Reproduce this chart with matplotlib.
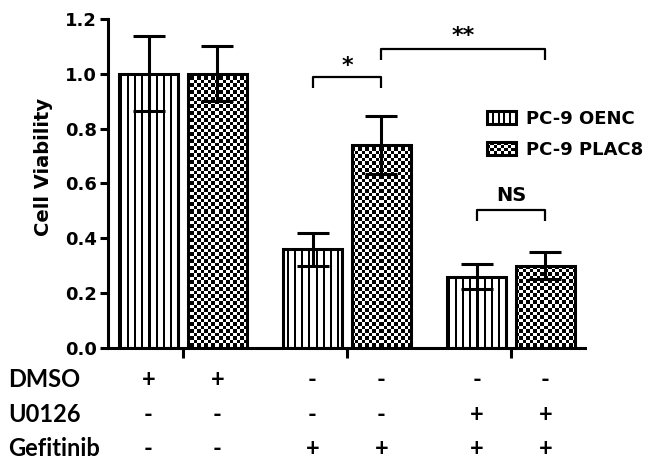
import numpy as np
import matplotlib
matplotlib.use("Agg")
import matplotlib.pyplot as plt
import matplotlib.transforms as mtransforms
from matplotlib.patches import Rectangle
from matplotlib.legend_handler import HandlerBase

# ---------------- data ----------------
groups = ["DMSO", "Gefitinib", "U0126 + Gefitinib"]
series = ["PC-9 OENC", "PC-9 PLAC8"]
oenc_mean = [1.00, 0.36, 0.26]
oenc_err = [0.137, 0.06, 0.046]
plac8_mean = [1.00, 0.74, 0.30]
plac8_err = [0.10, 0.105, 0.05]
yticks = [0.0, 0.2, 0.4, 0.6, 0.8, 1.0, 1.2]
row_labels = ["DMSO", "U0126", "Gefitinib"]
row_marks = [
    ["+", "+", "-", "-", "-", "-"],
    ["-", "-", "-", "-", "+", "+"],
    ["-", "-", "+", "+", "+", "+"],
]
sig_labels = ["*", "**", "NS"]
sig_pairs = [(2, 3), (3, 5), (4, 5)]   # bar indices (order: g0-OENC, g0-PLAC8, g1-OENC, ...)

# ---------------- layout ----------------
W, H = 646, 466
fig = plt.figure(figsize=(W / 100, H / 100), dpi=100)
ax = fig.add_axes([108 / W, 1 - 348 / H, 477 / W, 329 / H])
ax.set_xlim(-0.457, 2.451)
ax.set_ylim(0, 1.2)

x = np.arange(len(groups))
off, bw = 0.21, 0.36
LW = 2.2

bars1 = ax.bar(x - off, oenc_mean, bw, facecolor="none", edgecolor="black",
               linewidth=LW, zorder=3, label=series[0])
bars2 = ax.bar(x + off, plac8_mean, bw, facecolor="none", edgecolor="black",
               linewidth=LW, zorder=3, label=series[1])

ax.errorbar(x - off, oenc_mean, yerr=oenc_err, fmt="none", ecolor="black",
            elinewidth=LW, capsize=11.5, capthick=LW, zorder=4)
ax.errorbar(x + off, plac8_mean, yerr=plac8_err, fmt="none", ecolor="black",
            elinewidth=LW, capsize=11.5, capthick=LW, zorder=4)


def fill_pattern(patch, kind):
    bb = patch.get_bbox()
    (px0, py0), (px1, py1) = ax.transData.transform([[bb.x0, bb.y0], [bb.x1, bb.y1]])
    wpx = max(int(round(px1 - px0)), 1)
    hpx = max(int(round(py1 - py0)), 1)
    X, Y = np.meshgrid(np.arange(wpx) + np.floor(px0), np.arange(hpx) + np.floor(py0))
    if kind == "stripes":
        img = ((X % 7) >= 2).astype(float)
    else:
        img = ((np.floor(X / 3.5) + np.floor(Y / 3.5)) % 2).astype(float)
    im = ax.imshow(img, cmap="gray", vmin=0, vmax=1,
                   extent=(bb.x0, bb.x1, bb.y0, bb.y1), origin="lower",
                   interpolation="nearest", aspect="auto", zorder=2)
    im.set_clip_path(patch)


for p in bars1.patches:
    fill_pattern(p, "stripes")
for p in bars2.patches:
    fill_pattern(p, "checker")

ax.set_xlim(-0.457, 2.451)
ax.set_ylim(0, 1.2)

# ---------------- axes styling ----------------
for s in ["top", "right"]:
    ax.spines[s].set_visible(False)
for s in ["left", "bottom"]:
    ax.spines[s].set_linewidth(LW)
ax.set_xticks(x)
ax.set_xticklabels([])
ax.tick_params(axis="x", length=7, width=LW)
ax.set_yticks(yticks)
ax.set_yticklabels([f"{v:.1f}" for v in yticks], fontsize=13, fontweight="bold",
                   family="DejaVu Sans")
ax.tick_params(axis="y", length=6, width=LW, pad=2)
ax.set_ylabel("Cell Viability", fontsize=14, fontweight="bold", family="DejaVu Sans")
ax.yaxis.set_label_coords(-0.115, 0.549)

# ---------------- significance brackets ----------------
centers = []
for g in x:
    centers += [g - off, g + off]
bracket_y = [0.988, 1.090, 0.503]
label_y = [1.027, 1.137, 0.558]
for lab, (i, j), yb, yl in zip(sig_labels, sig_pairs, bracket_y, label_y):
    xi, xj = centers[i], centers[j]
    ax.plot([xi, xi, xj, xj], [yb - 0.04, yb, yb, yb - 0.04], color="black",
            lw=1.6, solid_capstyle="butt", zorder=5)
    ax.text((xi + xj) / 2, yl, lab, ha="center", va="center",
            fontsize=16 if "*" in lab else 14, fontweight="bold", family="DejaVu Sans")


# ---------------- legend ----------------
class PatternHandler(HandlerBase):
    def __init__(self, kind):
        super().__init__()
        self.kind = kind

    def create_artists(self, legend, orig_handle, xdescent, ydescent, width,
                       height, fontsize, trans):
        x0, y0 = -xdescent, -ydescent
        arts = [Rectangle((x0, y0), width, height, facecolor="white",
                          edgecolor="none", transform=trans)]
        if self.kind == "stripes":
            n = 4
            for k in range(1, n + 1):
                xx = x0 + width * k / (n + 1)
                arts.append(Rectangle((xx - 0.7, y0), 1.4, height, facecolor="black",
                                      edgecolor="none", transform=trans))
        else:
            cell = 2.5
            nx = int(np.ceil(width / cell))
            ny = int(np.ceil(height / cell))
            for a in range(nx):
                for b in range(ny):
                    if (a + b) % 2 == 0:
                        cw = min(cell, width - a * cell)
                        ch = min(cell, height - b * cell)
                        arts.append(Rectangle((x0 + a * cell, y0 + b * cell), cw, ch,
                                              facecolor="black", edgecolor="none",
                                              transform=trans))
        arts.append(Rectangle((x0, y0), width, height, facecolor="none",
                              edgecolor="black", lw=LW, transform=trans))
        return arts


ax.legend([bars1, bars2], series,
          handler_map={bars1: PatternHandler("stripes"), bars2: PatternHandler("checker")},
          loc="upper left", bbox_to_anchor=(487 / W, 1 - 110 / H),
          bbox_transform=fig.transFigure, frameon=False, borderpad=0,
          borderaxespad=0, handlelength=1.6, handleheight=0.75,
          handletextpad=0.55, labelspacing=0.7,
          prop={"family": "DejaVu Sans", "weight": "bold", "size": 13})

# ---------------- treatment table ----------------
row_base = [387, 421.5, 456]
blend = mtransforms.blended_transform_factory(ax.transData, fig.transFigure)
for lab, marks, yb in zip(row_labels, row_marks, row_base):
    fig.text(8 / W, 1 - yb / H, lab, ha="left", va="baseline", fontsize=17,
             fontweight="bold", family="Lato")
    for cx, m in zip(centers, marks):
        ax.text(cx, 1 - yb / H, m, transform=blend, ha="center", va="baseline",
                fontsize=17, fontweight="bold", family="Lato", clip_on=False)

fig.savefig("out.png", dpi=100)
